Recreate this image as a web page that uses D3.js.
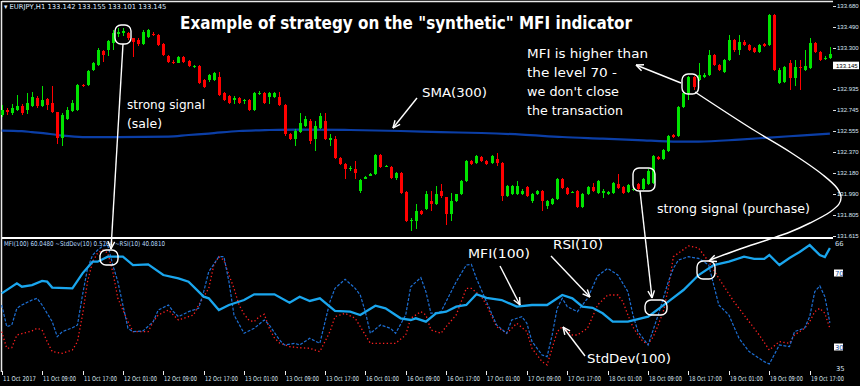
<!DOCTYPE html>
<html>
<head>
<meta charset="utf-8">
<script src="https://cdn.jsdelivr.net/npm/d3@7"></script>
<style>
  html, body { margin: 0; padding: 0; background: #000; }
  svg { display: block; }
</style>
</head>
<body>
<div id="chart"></div>
<script>
// EURJPY H1 bars
const opens = [
  132.695,132.740,132.713,132.740,132.776,132.740,132.776,132.848,132.776,132.839,
  132.803,132.722,132.497,132.668,132.731,132.740,132.965,132.965,133.100,133.145,
  133.271,133.280,133.343,133.424,133.433,133.433,133.388,133.370,133.334,133.397,
  133.424,133.415,133.334,133.226,133.172,133.163,133.217,133.181,133.127,133.136,
  133.010,133.010,133.010,133.037,132.893,132.866,132.830,132.848,132.821,132.830,
  132.740,132.884,132.893,132.857,132.857,132.857,132.785,132.533,132.488,132.551,
  132.605,132.650,132.488,132.587,132.650,132.479,132.488,132.317,132.263,132.218,
  132.218,132.020,132.128,132.155,132.173,132.344,132.236,132.236,132.137,132.182,
  132.011,131.750,131.750,131.840,131.858,131.930,131.903,132.020,131.966,131.813,
  131.930,131.993,132.110,132.290,132.272,132.326,132.290,132.272,132.308,132.272,
  131.975,131.993,131.993,131.993,132.056,131.930,131.993,132.020,131.885,131.903,
  131.948,132.128,132.047,132.011,132.020,131.876,131.993,132.056,132.002,132.002,
  131.993,132.002,132.083,132.056,132.011,132.029,132.083,132.038,132.083,132.092,
  132.326,132.308,132.380,132.524,132.515,132.767,132.893,133.037,133.010,133.037,
  133.055,133.235,133.145,133.082,133.190,133.370,133.280,133.352,133.325,133.298,
  133.262,133.334,133.325,133.595,132.983,132.992,133.163,133.028,133.127,133.100,
  133.118,133.343,133.262,133.199,133.208
];
const closes = [
  132.740,132.722,132.758,132.776,132.713,132.803,132.857,132.776,132.830,132.785,
  132.722,132.497,132.695,132.740,132.803,132.965,132.956,133.091,133.163,133.280,
  133.235,133.361,133.433,133.442,133.451,133.388,133.352,133.334,133.442,133.460,
  133.415,133.325,133.235,133.172,133.163,133.217,133.172,133.136,133.136,132.983,
  132.947,133.055,133.073,132.875,132.830,132.803,132.848,132.803,132.830,132.740,
  132.893,132.893,132.803,132.893,132.893,132.785,132.533,132.488,132.560,132.632,
  132.668,132.470,132.605,132.686,132.488,132.497,132.317,132.263,132.218,132.227,
  132.182,132.119,132.146,132.173,132.344,132.236,132.245,132.137,132.182,132.002,
  131.750,131.759,131.840,131.813,131.993,131.903,131.993,131.975,131.813,131.930,
  131.993,132.110,132.290,132.263,132.335,132.290,132.263,132.335,132.272,131.975,
  132.065,132.065,132.065,132.020,131.975,131.993,132.020,131.930,131.930,131.948,
  132.128,132.047,131.993,132.011,131.876,131.993,132.056,132.020,132.110,132.020,
  132.011,132.092,132.047,132.002,132.074,132.038,132.038,132.128,132.200,132.335,
  132.308,132.389,132.515,132.506,132.767,132.893,133.037,132.947,133.055,133.055,
  133.235,133.145,133.100,133.190,133.370,133.280,133.352,133.325,133.280,133.262,
  133.325,133.316,133.595,133.100,133.100,133.127,133.028,133.127,133.118,133.136,
  133.343,133.262,133.190,133.208,133.244
];
const highs = [
  132.785,132.758,132.794,132.875,132.794,132.893,132.902,132.866,132.956,132.848,
  132.956,132.722,132.713,132.767,132.830,132.974,132.974,133.100,133.172,133.298,
  133.280,133.370,133.460,133.478,133.478,133.442,133.388,133.388,133.460,133.469,
  133.442,133.424,133.343,133.235,133.190,133.226,133.226,133.190,133.145,133.145,
  133.019,133.064,133.082,133.082,132.902,132.875,132.866,132.857,132.839,132.839,
  132.902,132.911,132.902,132.902,132.902,132.902,132.794,132.542,132.578,132.713,
  132.686,132.668,132.650,132.713,132.713,132.533,132.515,132.326,132.272,132.245,
  132.290,132.128,132.155,132.182,132.353,132.353,132.254,132.245,132.191,132.191,
  132.020,131.777,131.903,131.849,132.020,132.020,132.065,132.083,131.966,132.002,
  131.993,132.119,132.299,132.299,132.344,132.335,132.299,132.344,132.362,132.281,
  132.074,132.074,132.110,132.038,132.065,132.002,132.029,132.029,131.939,131.957,
  132.137,132.137,132.056,132.020,132.029,132.002,132.065,132.092,132.119,132.038,
  132.020,132.101,132.173,132.065,132.083,132.047,132.092,132.137,132.218,132.344,
  132.335,132.398,132.524,132.533,132.776,132.902,133.046,133.046,133.163,133.073,
  133.280,133.244,133.154,133.199,133.415,133.379,133.415,133.370,133.334,133.307,
  133.334,133.343,133.604,133.604,133.118,133.136,133.190,133.190,133.190,133.280,
  133.388,133.352,133.271,133.226,133.307
];
const lows = [
  132.677,132.695,132.695,132.731,132.695,132.704,132.767,132.758,132.767,132.740,
  132.713,132.443,132.425,132.659,132.722,132.731,132.947,132.956,133.091,133.136,
  133.172,133.226,133.280,133.397,133.406,133.370,133.217,133.316,133.325,133.388,
  133.406,133.316,133.226,133.163,133.154,133.163,133.163,133.127,133.118,132.974,
  132.938,132.992,133.001,132.866,132.821,132.794,132.794,132.794,132.794,132.731,
  132.731,132.875,132.794,132.794,132.848,132.776,132.515,132.479,132.425,132.542,
  132.596,132.443,132.380,132.578,132.479,132.425,132.308,132.254,132.128,132.200,
  132.128,132.002,132.128,132.155,132.164,132.227,132.236,132.128,132.119,131.993,
  131.741,131.660,131.678,131.804,131.849,131.840,131.894,131.957,131.714,131.750,
  131.921,131.984,132.101,132.254,132.263,132.281,132.254,132.263,132.245,131.930,
  131.966,131.984,131.984,131.984,131.966,131.912,131.984,131.840,131.858,131.894,
  131.939,132.038,131.984,132.002,131.867,131.867,131.984,132.011,131.993,131.957,
  131.984,131.993,132.038,131.993,132.002,132.020,132.029,132.029,132.074,132.083,
  132.299,132.299,132.371,132.497,132.506,132.758,132.830,132.920,133.001,133.028,
  133.046,133.136,133.091,133.073,133.181,133.262,133.235,133.316,133.271,133.253,
  133.253,133.307,133.316,133.091,132.974,132.983,132.920,132.956,132.920,133.091,
  133.109,133.253,133.181,133.190,133.199
];

// SMA(300) read at some bars
const smaBars   = [0, 4, 6, 9, 12, 16, 23, 33, 37, 41, 47, 53, 59, 69, 79, 87, 95, 103, 111, 119, 126, 134, 138, 146, 152, 158, 164];
const smaValues = [132.560,132.555,132.546,132.533,132.515,132.502,132.502,132.506,132.520,132.533,132.556,132.565,132.569,132.565,132.556,132.546,132.538,132.524,132.502,132.488,132.475,132.461,132.461,132.479,132.497,132.515,132.533];

// indicator window
const mfiBars = [0,3,4,6,8,9,10,14,16,18,19,21,24,26,29,32,35,37,40,41,43,45,48,50,54,57,59,61,63,66,69,71,74,76,79,81,82,84,86,88,90,92,94,96,99,102,105,108,111,113,115,117,119,121,124,128,132,135,138,141,144,147,149,151,152,154,156,158,160,162,163,164];
const mfiValues = [59.0,64.4,62.6,63.5,65.7,65.3,62.1,61.7,69.8,76.1,76.1,78.8,78.8,74.3,74.7,68.9,67.1,65.3,57.2,56.3,50.0,52.7,55.4,58.5,58.5,53.9,57.2,54.9,56.3,49.5,49.1,47.3,52.3,50.9,45.5,44.6,45.5,43.7,48.2,49.1,51.8,52.7,58.5,56.6,55.4,51.8,52.7,52.7,58.1,56.3,51.8,51.2,48.2,43.7,43.7,46.4,54.5,60.8,68.9,74.3,76.1,78.8,77.6,77.6,79.7,74.3,78.1,81.4,85.1,79.7,78.6,83.5];

const rsiBars = [0,1,2,3,4,6,7,8,10,11,12,14,15,16,17,18,19,20,21,22,23,24,25,26,28,30,31,33,34,35,37,39,40,41,43,44,45,46,48,50,52,53,55,56,58,59,61,63,65,66,68,70,71,72,73,75,77,78,80,81,83,84,85,87,89,90,92,93,94,96,98,100,101,103,104,105,107,108,109,110,111,112,114,116,118,120,122,124,125,126,128,130,132,133,134,136,138,140,141,142,144,146,148,151,152,154,156,157,159,160,161,162,163,164];
const rsiValues = [52.7,41.0,41.9,50.9,52.7,55.4,56.3,52.7,43.7,35.6,38.3,40.4,41.9,58.1,72.5,79.7,82.4,84.6,85.1,74.3,65.3,52.7,40.1,38.3,38.7,43.7,50.0,52.7,49.1,46.4,49.1,50.9,59.9,70.7,78.8,78.8,65.3,47.3,37.4,40.1,44.6,41.9,33.8,31.1,32.0,31.1,34.7,32.0,54.5,61.7,66.6,61.7,58.1,49.1,37.4,41.9,40.1,37.4,47.3,62.6,67.5,59.9,48.2,49.1,59.9,65.3,74.3,74.7,67.1,54.5,41.9,37.4,44.6,46.4,42.8,33.0,25.7,24.8,36.5,50.9,56.3,51.8,49.1,56.3,68.4,72.5,68.9,59.9,47.3,38.3,31.1,47.3,65.3,72.5,77.0,78.8,77.9,74.3,63.5,52.7,47.3,34.7,27.5,22.1,20.8,31.1,30.2,38.3,40.3,46.4,59.9,63.0,57.2,43.0];

const stdBars = [0,1,2,3,6,7,8,9,10,12,14,15,16,17,18,19,20,21,22,23,25,26,29,30,31,33,34,35,38,39,41,42,43,44,45,46,47,48,49,50,51,52,53,54,55,57,59,61,63,65,66,68,70,72,73,76,78,80,81,83,84,85,87,88,90,92,93,95,96,98,100,102,104,105,107,108,109,110,111,113,114,116,118,120,122,123,124,125,126,127,128,129,130,131,132,133,136,138,140,142,145,148,150,152,154,156,157,159,160,161,162,163,164];
const stdValues = [38.3,29.3,29.6,36.5,38.7,40.1,39.2,32.9,27.5,26.6,28.4,32.9,47.3,65.3,76.1,80.8,82.4,80.8,70.7,56.3,43.7,38.3,38.3,43.7,47.3,50.0,47.3,44.6,47.3,52.7,61.7,74.3,78.8,76.9,68.9,61.7,52.7,47.8,44.3,43.7,46.4,47.7,40.1,34.9,32.2,30.2,29.6,29.3,27.5,38.3,46.4,48.2,45.5,36.5,32.0,32.0,32.0,36.5,45.5,49.1,47.3,39.2,37.4,41.0,47.3,61.7,61.7,57.2,52.7,41.0,37.4,42.8,38.3,29.3,22.1,20.3,29.3,38.3,41.0,36.5,36.5,40.1,52.7,58.1,58.1,54.5,47.3,40.8,36.5,32.9,31.6,35.4,41.9,49.1,61.7,78.8,84.6,83.5,76.1,67.1,54.5,43.7,36.5,28.4,32.9,32.0,36.5,40.1,43.7,49.1,50.9,48.2,40.1];

// axes
const timeTicks  = [0, 8, 16, 24, 32, 40, 48, 56, 64, 72, 80, 88, 96, 104, 112, 120, 128, 136, 144, 152, 160];
const timeLabels = ["11 Oct 2017","11 Oct 09:00","11 Oct 17:00","12 Oct 01:00","12 Oct 09:00","12 Oct 17:00",
  "13 Oct 01:00","13 Oct 09:00","13 Oct 17:00","16 Oct 01:00","16 Oct 09:00","16 Oct 17:00",
  "17 Oct 01:00","17 Oct 09:00","17 Oct 17:00","18 Oct 01:00","18 Oct 09:00","18 Oct 17:00",
  "19 Oct 01:00","19 Oct 09:00","19 Oct 17:00"];
const priceTicks = [133.680, 133.490, 133.300, 132.935, 132.745, 132.555, 132.370, 132.180, 131.990, 131.805, 131.615];
const lastPrice = 133.145;
const levelTicks = [70, 30];

const width = 860, height = 386;
const plotRight = 833;

const svg = d3.select("#chart").append("svg")
  .attr("width", width).attr("height", height)
  .style("background", "#000");

// scales
const x = d3.scaleLinear().domain([0, 164]).range([1.7, 829.9]);
const y = d3.scaleLinear().domain([131.615, 133.73]).range([236, 0]);
const yInd = d3.scaleLinear().domain([30, 70]).range([347, 273]);

// frame
svg.append("line").attr("x1", 2).attr("x2", plotRight).attr("y1", 1.5).attr("y2", 1.5)
  .attr("stroke", "#e8e8e8").attr("stroke-width", 1.5);
svg.append("line").attr("x1", 1.5).attr("x2", 1.5).attr("y1", 1).attr("y2", 372)
  .attr("stroke", "#e8e8e8").attr("stroke-width", 1.5);
svg.append("line").attr("x1", 2).attr("x2", plotRight).attr("y1", 238).attr("y2", 238)
  .attr("stroke", "#ffffff").attr("stroke-width", 2.2);

// SMA(300)
const smaLine = d3.line()
  .x((d, i) => x(smaBars[i]))
  .y(d => y(d))
  .curve(d3.curveMonotoneX);
svg.append("path").datum(smaValues)
  .attr("fill", "none").attr("stroke", "#0b3ea6").attr("stroke-width", 2.2)
  .attr("d", smaLine);

// candles
const candles = svg.append("g").attr("shape-rendering", "crispEdges");
opens.forEach((o, i) => {
  const c = closes[i];
  const up = c >= o;
  const col = up ? "#00e400" : "#ff0000";
  const cx = Math.round(x(i));
  const hi = Math.max(highs[i], o, c), lo = Math.min(lows[i], o, c);
  candles.append("rect")
    .attr("x", cx).attr("width", 1)
    .attr("y", y(hi)).attr("height", Math.max(1, y(lo) - y(hi)))
    .attr("fill", col);
  const top = y(Math.max(o, c)), bot = y(Math.min(o, c));
  candles.append("rect")
    .attr("x", cx - 1).attr("width", 3)
    .attr("y", top).attr("height", Math.max(1, bot - top))
    .attr("fill", col);
});

// indicator lines
function indLine(bars) {
  return d3.line().x((d, i) => x(bars[i])).y(d => yInd(d));
}
svg.append("path").datum(stdValues)
  .attr("fill", "none").attr("stroke", "#ff2020").attr("stroke-width", 1.3)
  .attr("stroke-dasharray", "1.3,2.4")
  .attr("d", indLine(stdBars));
svg.append("path").datum(rsiValues)
  .attr("fill", "none").attr("stroke", "#1d6fd4").attr("stroke-width", 1.2)
  .attr("stroke-dasharray", "3,1.6")
  .attr("d", indLine(rsiBars));
svg.append("path").datum(mfiValues)
  .attr("fill", "none").attr("stroke", "#1aa6ee").attr("stroke-width", 2.3)
  .attr("d", indLine(mfiBars));

// price axis
const axisFont = "DejaVu Sans";
const priceFont = "Liberation Sans";
priceTicks.forEach(p => {
  svg.append("line").attr("x1", plotRight).attr("x2", plotRight + 3)
    .attr("y1", Math.round(y(p)) + 0.5).attr("y2", Math.round(y(p)) + 0.5)
    .attr("stroke", "#ddd").attr("stroke-width", 1);
  svg.append("text").attr("x", 837).attr("y", y(p) + 2.2)
    .attr("font-family", priceFont).attr("font-size", 6)
    .attr("fill", "#d8e4f4").text(p.toFixed(3));
});
svg.append("rect").attr("x", 833).attr("y", y(lastPrice) - 3.6).attr("width", 26).attr("height", 7.5)
  .attr("fill", "#ffffff");
svg.append("text").attr("x", 836).attr("y", y(lastPrice) + 2.3)
  .attr("font-family", priceFont).attr("font-size", 6)
  .attr("fill", "#000").text(lastPrice.toFixed(3));

// indicator scale labels
levelTicks.forEach(v => {
  svg.append("rect").attr("x", 834).attr("y", yInd(v) - 3.5).attr("width", 9).attr("height", 7)
    .attr("fill", "#fff");
  svg.append("text").attr("x", 835).attr("y", yInd(v) + 2.5)
    .attr("font-family", axisFont).attr("font-size", 6.8)
    .attr("fill", "#1a4f9a").text(v);
});
svg.append("text").attr("x", 835).attr("y", 246)
  .attr("font-family", axisFont).attr("font-size", 6.8).attr("fill", "#d8e4f4").text("66");
svg.append("text").attr("x", 836).attr("y", 371)
  .attr("font-family", axisFont).attr("font-size", 6.8).attr("fill", "#d8e4f4").text("35");

// time axis
timeTicks.forEach((t, i) => {
  const tx = Math.round(x(t)) + 0.5;
  svg.append("line").attr("x1", tx).attr("x2", tx).attr("y1", 371).attr("y2", 375)
    .attr("stroke", "#eee").attr("stroke-width", 1);
  svg.append("text").attr("x", tx + 0.5).attr("y", 381)
    .attr("font-family", axisFont).attr("font-size", 6.6)
    .attr("textLength", 33).attr("lengthAdjust", "spacingAndGlyphs")
    .attr("fill", "#dbe5f2").text(timeLabels[i]);
});

// window headers
svg.append("text").attr("x", 4).attr("y", 9)
  .attr("font-family", axisFont).attr("font-size", 6.8).attr("fill", "#dfeaff")
  .text("\u25BE EURJPY,H1  133.142 133.155 133.101 133.145");
svg.append("text").attr("x", 4).attr("y", 246)
  .attr("font-family", axisFont).attr("font-size", 6.6).attr("fill", "#b9dcff")
  .attr("textLength", 161).attr("lengthAdjust", "spacingAndGlyphs")
  .text("MFI(100) 60.0480  ~StdDev(10) 0.5764  ~RSI(10) 40.0810");

// annotations
const ann = svg.append("g");
const noteFont = "DejaVu Sans";
ann.append("text").attr("x", 180).attr("y", 29)
  .attr("font-family", noteFont).attr("font-weight", "bold").attr("font-size", 17.5)
  .attr("textLength", 452).attr("lengthAdjust", "spacingAndGlyphs")
  .attr("fill", "#fff").text('Example of strategy on the "synthetic" MFI indicator');

const notes = [
  ["strong signal", 127, 108.5, 78],
  ["(sale)", 127, 127.5, 35],
  ["SMA(300)", 422, 96.5, 65],
  ["MFI is higher than", 527, 57.5, 121],
  ["the level 70 -", 527, 77, 90],
  ["we don't close", 527, 96, 92],
  ["the transaction", 527, 114.5, 96],
  ["strong signal (purchase)", 657, 213, 153],
  ["MFI(100)", 468, 257.5, 62],
  ["RSI(10)", 553, 249, 50],
  ["StdDev(100)", 587, 362.5, 84]
];
notes.forEach(([t, tx, ty, w]) => {
  ann.append("text").attr("x", tx).attr("y", ty)
    .attr("font-family", noteFont).attr("font-size", 13)
    .attr("textLength", w).attr("lengthAdjust", "spacingAndGlyphs")
    .attr("fill", "#fff").text(t);
});

// rounded markers
const boxes = [
  [115, 25, 16, 19],
  [100, 250, 18, 15],
  [682, 74, 16.5, 20],
  [697, 261, 18, 18],
  [633, 168, 22, 23],
  [645, 300, 22, 15]
];
boxes.forEach(([bx, by, bw, bh]) => {
  ann.append("rect").attr("x", bx).attr("y", by).attr("width", bw).attr("height", bh)
    .attr("rx", 6).attr("fill", "none").attr("stroke", "#fff").attr("stroke-width", 1.4);
});

function arrowHead(x1, y1, x2, y2) {
  const a = Math.atan2(y2 - y1, x2 - x1), len = 8, spread = 0.42;
  [a + Math.PI - spread, a + Math.PI + spread].forEach(b => {
    ann.append("line").attr("x1", x2).attr("y1", y2)
      .attr("x2", x2 + len * Math.cos(b)).attr("y2", y2 + len * Math.sin(b))
      .attr("stroke", "#fff").attr("stroke-width", 1.4);
  });
}
const arrows = [
  [123, 44, 111, 249],
  [417, 98, 393, 128],
  [681, 83, 636, 65],
  [640, 191, 652, 298],
  [500, 266, 520, 305],
  [551, 256, 590, 297],
  [585, 356, 563, 327]
];
arrows.forEach(([x1, y1, x2, y2]) => {
  ann.append("line").attr("x1", x1).attr("y1", y1).attr("x2", x2).attr("y2", y2)
    .attr("stroke", "#fff").attr("stroke-width", 1.4);
  arrowHead(x1, y1, x2, y2);
});

// long bent arrow from the top box to the box in the lower window
const bend = [[695, 92], [752, 129], [790, 152], [823, 175], [837, 188], [841, 197], [839, 204],
  [830, 212], [810, 223], [790, 232], [767, 240], [740, 249], [710, 260]];
ann.append("path").datum(bend)
  .attr("fill", "none").attr("stroke", "#fff").attr("stroke-width", 1.4)
  .attr("d", d3.line().curve(d3.curveCatmullRom)(bend));
arrowHead(730, 253, 709, 261);
</script>
</body>
</html>
